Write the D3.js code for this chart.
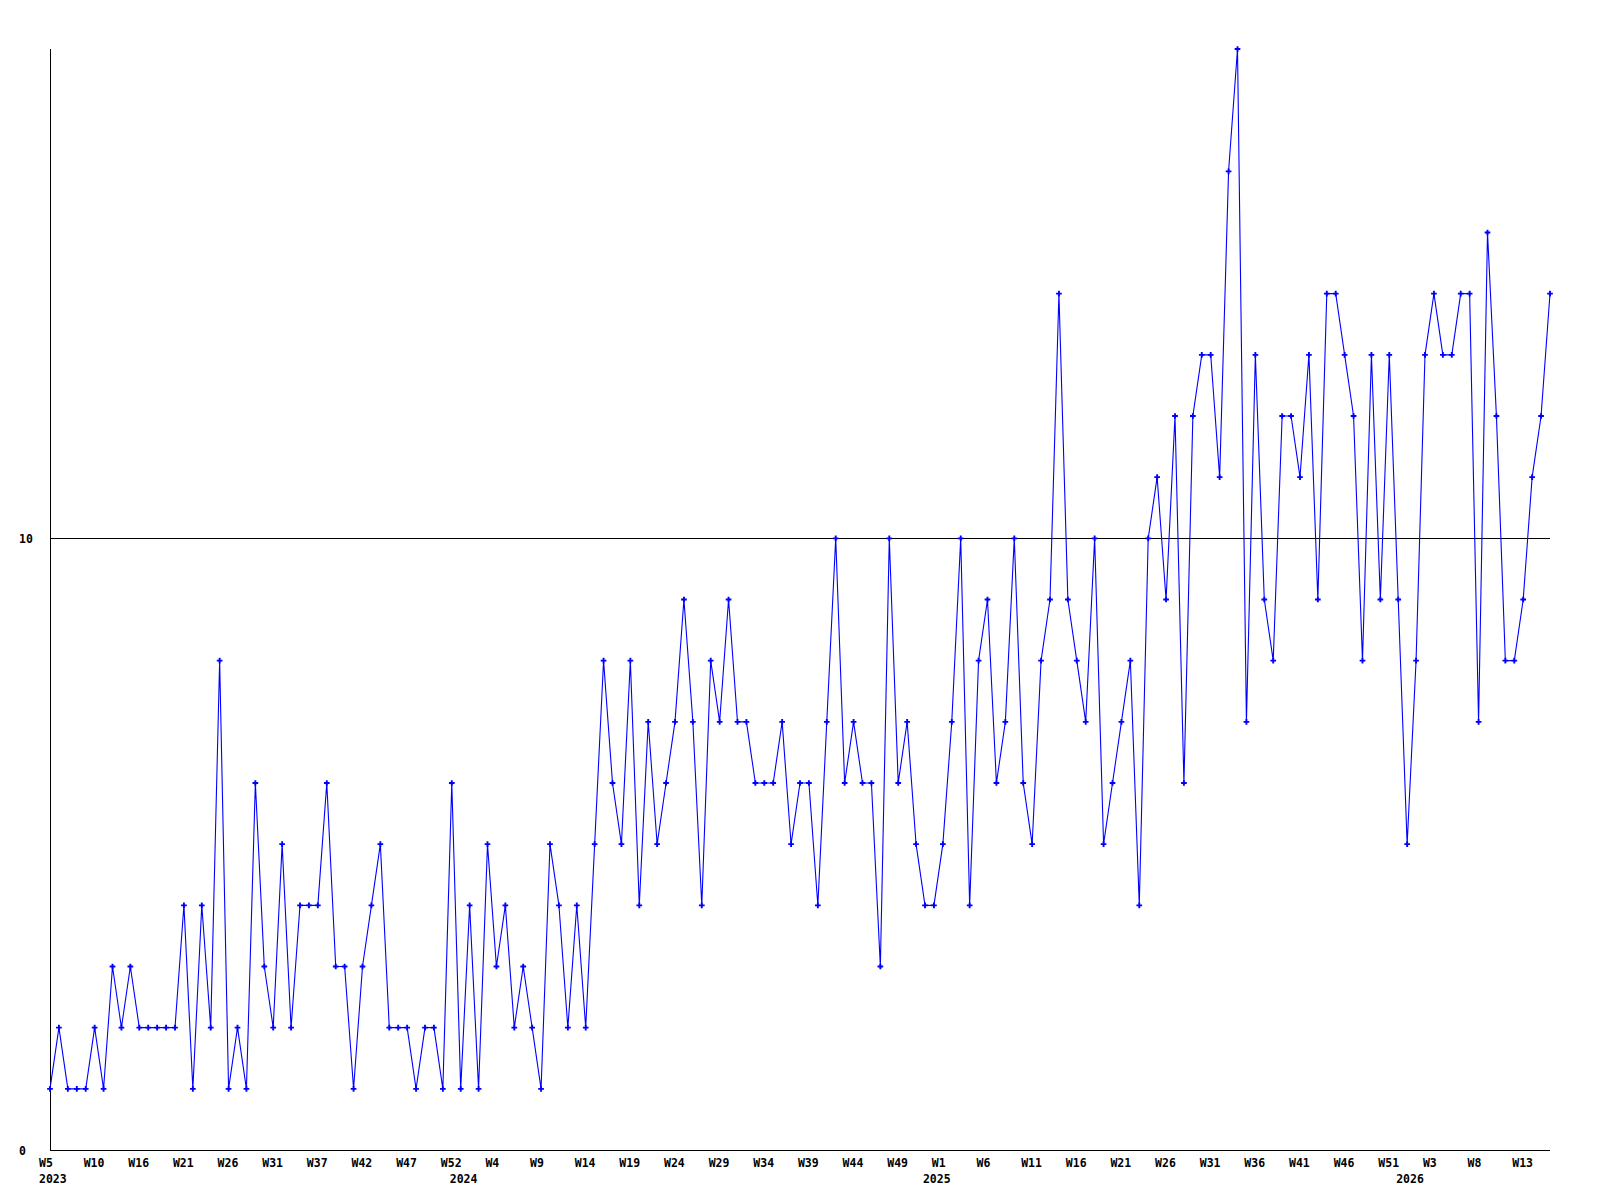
<!DOCTYPE html>
<html>
<head>
<meta charset="utf-8">
<script src="https://cdn.jsdelivr.net/npm/d3@7"></script>
<style>
  html, body { margin: 0; padding: 0; background: #ffffff; }
  svg { display: block; }
  text { font-family: "DejaVu Sans Mono", "Liberation Mono", monospace; font-weight: bold; font-size: 11.5px; fill: #000; }
</style>
</head>
<body>
<svg id="chart" width="1600" height="1200"></svg>
<script>
// ---- data (weekly counts) ----
const years = [2023, 2024, 2025, 2026];
const firstWeek = [5, 0, 0, 0];
const missingWeeks2023 = [12, 33];

const values2023 = [1,2,1,1,1,2,1,3,2,3,2,2,2,2,2,4,1,4,2,8,1,2,1,6,3,2,5,2,4,4,4,6,3,3,1,3,4,5,2,2,2,1,2,2,1,6];
const values2024 = [1,4,1,5,3,4,2,3,2,1,5,4,2,4,2,5,8,6,5,8,4,7,5,6,7,9,7,4,8,7,9,7,7,6,6,6,7,5,6,6,4,7,10,6,7,6,6,3,10,6,7,5,4];
const values2025 = [4,5,7,10,4,8,9,6,7,10,6,5,8,9,14,9,8,7,10,5,6,7,8,4,10,11,9,12,6,12,13,13,11,16,18,7,13,9,8,12,12,11,13,9,14,14,13,12,8,13,9,13,9];
const values2026 = [5,8,13,14,13,13,14,14,7,15,12,8,8,9,11,12,14];

const weekTickLabels = ["W5","W10","W16","W21","W26","W31","W37","W42","W47","W52","W4","W9","W14","W19","W24","W29","W34","W39","W44","W49","W1","W6","W11","W16","W21","W26","W31","W36","W41","W46","W51","W3","W8","W13"];
const yearTickLabels = ["2023","2024","2025","2026"];
const yTickValues = [0, 10];
const yMax = 18;

// ---- build categories ----
const seriesByYear = [values2023, values2024, values2025, values2026];
const points = [];
const yearStart = [];
seriesByYear.forEach((vals, yi) => {
  yearStart.push(points.length);
  let w = firstWeek[yi];
  vals.forEach(v => {
    if (yi === 0) { while (missingWeeks2023.includes(w)) w++; }
    points.push({ year: years[yi], week: w, value: v, i: points.length });
    w++;
  });
});

// ---- layout ----
const svg = d3.select("#chart");
const plotLeft = 50, plotRight = 1550, plotTop = 49, plotBottom = 1150;

const x = d3.scaleLinear().domain([0, points.length - 1]).range([plotLeft, plotRight]);
const y = d3.scaleLinear().domain([0, yMax]).range([plotBottom, plotTop]);

// grid line at 10
svg.append("g").selectAll("line").data(yTickValues.filter(v => v > 0)).join("line")
  .attr("x1", plotLeft).attr("x2", plotRight)
  .attr("y1", d => Math.round(y(d)) + 0.5).attr("y2", d => Math.round(y(d)) + 0.5)
  .attr("stroke", "#000").attr("stroke-width", 1).attr("shape-rendering", "crispEdges");

// axes lines
svg.append("line").attr("x1", plotLeft + 0.5).attr("x2", plotLeft + 0.5).attr("y1", plotTop).attr("y2", plotBottom + 0.5)
  .attr("stroke", "#000").attr("stroke-width", 1).attr("shape-rendering", "crispEdges");
svg.append("line").attr("x1", plotLeft).attr("x2", plotRight).attr("y1", plotBottom + 0.5).attr("y2", plotBottom + 0.5)
  .attr("stroke", "#000").attr("stroke-width", 1).attr("shape-rendering", "crispEdges");

// y labels
svg.append("g").selectAll("text").data(yTickValues).join("text")
  .attr("x", 19).attr("y", d => y(d) + 4.5)
  .text(d => d);

// x week labels every 5th category
svg.append("g").selectAll("text").data(weekTickLabels).join("text")
  .attr("x", (d, k) => x(k * 5) - 11)
  .attr("y", 1167)
  .text(d => d);

// year labels at first point of each year
svg.append("g").selectAll("text").data(yearTickLabels).join("text")
  .attr("x", (d, k) => x(yearStart[k]) - 11)
  .attr("y", 1182.5)
  .text(d => d);

// line
const line = d3.line().x(d => x(d.i)).y(d => y(d.value));
svg.append("path").datum(points)
  .attr("d", line)
  .attr("fill", "none").attr("stroke", "#0000ff").attr("stroke-width", 1.1);

// markers
const sym = d3.symbol().type(d3.symbolCross).size(18);
svg.append("g").selectAll("path").data(points).join("path")
  .attr("transform", d => `translate(${x(d.i)},${y(d.value)})`)
  .attr("d", sym)
  .attr("fill", "#0000ff");
</script>
</body>
</html>
